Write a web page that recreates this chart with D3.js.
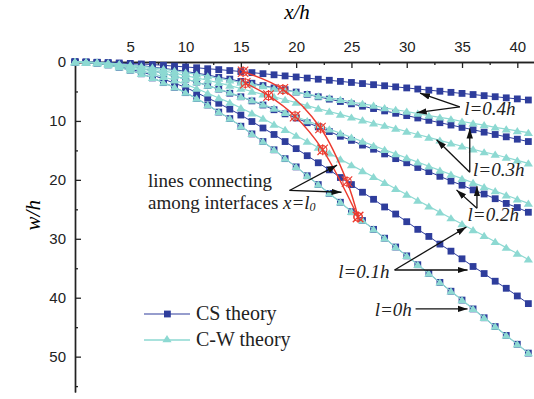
<!DOCTYPE html>
<html>
<head>
<meta charset="utf-8">
<script src="https://cdn.jsdelivr.net/npm/d3@7"></script>
<style>
  html, body { margin: 0; padding: 0; background: #fff; }
</style>
</head>
<body>
<svg id="chart" width="534" height="399"></svg>
<script>
// x/h positions of the markers
const xValues = [0,1,2,3,4,5,6,7,8,9,10,11,12,13,14,15,16,17,18,19,20,21,22,23,24,25,26,27,28,29,30,31,32,33,34,35,36,37,38,39,40,41]

// CS theory, w/h for l = 0h ... 0.4h
const csL00 = [0,0.1,0.2,0.5,0.9,1.4,2.0,2.7,3.5,4.3,5.2,6.2,7.3,8.5,9.6,10.9,12.2,13.5,14.9,16.4,17.8,19.3,20.8,22.3,23.8,25.4,26.9,28.4,29.9,31.4,32.9,34.4,35.9,37.4,38.9,40.4,41.9,43.4,44.9,46.4,47.9,49.4]
const csL01 = [0,0.05,0.2,0.4,0.8,1.2,1.7,2.2,2.9,3.6,4.3,5.2,6.1,7.0,8.0,9.0,10.1,11.2,12.3,13.5,14.7,15.9,17.1,18.3,19.6,20.8,22.1,23.3,24.6,25.8,27.1,28.4,29.6,30.9,32.1,33.4,34.7,35.9,37.2,38.4,39.7,41.0]
const csL02 = [0,0.03,0.1,0.3,0.5,0.8,1.1,1.5,1.9,2.4,2.9,3.4,4.0,4.6,5.3,5.9,6.6,7.3,8.1,8.8,9.5,10.3,11.0,11.8,12.6,13.3,14.1,14.8,15.6,16.4,17.1,17.9,18.6,19.4,20.2,20.9,21.7,22.4,23.2,24.0,24.7,25.5]
const csL03 = [0,0.02,0.08,0.17,0.3,0.45,0.6,0.85,1.1,1.3,1.6,1.9,2.2,2.6,2.9,3.3,3.6,4.0,4.4,4.7,5.1,5.5,5.9,6.3,6.7,7.1,7.5,7.9,8.3,8.7,9.1,9.5,9.9,10.3,10.7,11.1,11.5,11.9,12.3,12.7,13.1,13.5]
const csL04 = [0,0.01,0.04,0.09,0.16,0.24,0.33,0.44,0.56,0.7,0.84,0.98,1.14,1.29,1.45,1.62,1.8,1.98,2.17,2.36,2.54,2.73,2.92,3.1,3.29,3.47,3.66,3.85,4.03,4.22,4.4,4.59,4.78,4.96,5.15,5.33,5.52,5.71,5.89,6.08,6.26,6.45]

// C-W theory, w/h for l = 0h ... 0.4h
const cwL00 = [0,0.1,0.2,0.5,0.9,1.4,2.0,2.7,3.5,4.3,5.2,6.2,7.3,8.5,9.6,10.9,12.2,13.5,14.9,16.4,17.8,19.3,20.8,22.3,23.8,25.4,26.9,28.4,29.9,31.4,32.9,34.4,35.9,37.4,38.9,40.4,41.9,43.4,44.9,46.4,47.9,49.4]
const cwL01 = [0,0.04,0.17,0.38,0.67,1.0,1.46,1.96,2.5,3.1,3.8,4.5,5.3,6.1,6.9,7.8,8.7,9.6,10.6,11.5,12.5,13.5,14.5,15.5,16.5,17.5,18.5,19.5,20.5,21.5,22.5,23.5,24.5,25.5,26.5,27.5,28.5,29.5,30.5,31.5,32.5,33.5]
const cwL02 = [0,0.03,0.13,0.3,0.52,0.8,1.13,1.5,1.9,2.4,2.9,3.4,4.0,4.6,5.2,5.9,6.5,7.2,7.9,8.6,9.3,10.0,10.7,11.4,12.1,12.8,13.5,14.2,14.9,15.6,16.3,17.0,17.7,18.4,19.1,19.8,20.5,21.2,21.9,22.6,23.3,24.0]
const cwL03 = [0,0.03,0.11,0.24,0.41,0.63,0.89,1.19,1.5,1.9,2.3,2.7,3.1,3.55,4.0,4.5,5.0,5.5,5.9,6.4,6.9,7.4,7.9,8.4,8.9,9.4,9.9,10.4,10.8,11.3,11.8,12.3,12.8,13.3,13.8,14.3,14.8,15.3,15.7,16.2,16.7,17.2]
const cwL04 = [0,0.02,0.09,0.19,0.33,0.51,0.71,0.95,1.2,1.5,1.8,2.1,2.4,2.8,3.1,3.5,3.8,4.1,4.5,4.8,5.1,5.45,5.8,6.1,6.4,6.8,7.1,7.4,7.8,8.1,8.4,8.75,9.1,9.4,9.7,10.1,10.4,10.7,11.1,11.4,11.7,12.0]

// interface points x = l0 (l = 0.4h, 0.3h, 0.2h, 0.1h, 0h)
const csInterfaceX = [15.2, 18.8, 22.2, 24.6, 25.6]
const csInterfaceW = [1.65, 4.65, 11.2, 20.3, 26.3]
const cwInterfaceX = [15.4, 17.5, 19.9, 22.4, 25.6]
const cwInterfaceW = [3.6, 5.7, 9.2, 14.9, 26.3]

// ticks
const xTicks = [5, 10, 15, 20, 25, 30, 35, 40]
const xMinor = [2.5, 7.5, 12.5, 17.5, 22.5, 27.5, 32.5, 37.5]
const yTicks = [0, 10, 20, 30, 40, 50]
const yMinor = [5, 15, 25, 35, 45, 55]

const csColor = '#2e3d9c'
const cwColor = '#8dd9d2'
const redColor = '#ec3a2e'
const serif = '"Liberation Serif", "Times New Roman", serif'
const sans = '"Liberation Sans", Arial, sans-serif'

const svg = d3.select('#chart')

const x = d3.scaleLinear().domain([0, 41.6]).range([75, 535])
const y = d3.scaleLinear().domain([0, 56]).range([62, 392])

// arrow head
svg.append('defs')
  .append('marker')
  .attr('id', 'arrow')
  .attr('markerUnits', 'userSpaceOnUse')
  .attr('markerWidth', 11)
  .attr('markerHeight', 8)
  .attr('refX', 10)
  .attr('refY', 4)
  .attr('orient', 'auto')
  .append('path')
  .attr('d', 'M0,0.8 L10,4 L0,7.2 Z')
  .attr('fill', '#111')

// axes
const styleAxis = (g) => {
  g.select('.domain').attr('stroke', '#222').attr('stroke-width', 1.4)
  g.selectAll('.tick line').attr('stroke', '#222').attr('stroke-width', 1.3)
  g.selectAll('.tick text').attr('fill', '#222').style('font-family', sans).style('font-size', '15px')
}

svg.append('g')
  .attr('transform', `translate(0,${y(0)})`)
  .call(d3.axisTop(x).tickValues(xMinor).tickSize(-3).tickSizeOuter(0).tickFormat(''))
  .call(styleAxis)
svg.append('g')
  .attr('transform', `translate(0,${y(0)})`)
  .call(d3.axisTop(x).tickValues(xTicks).tickSize(-6).tickSizeOuter(0).tickPadding(10))
  .call(styleAxis)

svg.append('g')
  .attr('transform', `translate(${x(0)},0)`)
  .call(d3.axisLeft(y).tickValues(yMinor).tickSize(-3).tickSizeOuter(0).tickFormat(''))
  .call(styleAxis)
svg.append('g')
  .attr('transform', `translate(${x(0)},0)`)
  .call(d3.axisLeft(y).tickValues(yTicks).tickSize(-6).tickSizeOuter(0).tickPadding(9))
  .call(styleAxis)

// axis titles
svg.append('text')
  .attr('x', 297).attr('y', 19)
  .attr('text-anchor', 'middle')
  .style('font-family', serif).style('font-style', 'italic').style('font-size', '21px')
  .text('x/h')

svg.append('text')
  .attr('transform', `translate(40,${y(26)}) rotate(-90)`)
  .attr('text-anchor', 'middle')
  .style('font-family', serif).style('font-style', 'italic').style('font-size', '21px')
  .text('w/h')

// series
const line = d3.line().x((d, i) => x(xValues[i])).y((d) => y(d))
const trianglePath = 'M0,-4 L4.6,3.2 L-4.6,3.2 Z'

const csSeries = [csL00, csL01, csL02, csL03, csL04]
const cwSeries = [cwL00, cwL01, cwL02, cwL03, cwL04]

csSeries.forEach((s) => {
  svg.append('path').datum(s)
    .attr('fill', 'none').attr('stroke', csColor).attr('stroke-width', 1).attr('d', line)
  svg.append('g').selectAll('rect').data(s).join('rect')
    .attr('x', (d, i) => x(xValues[i]) - 3.4)
    .attr('y', (d) => y(d) - 3.4)
    .attr('width', 6.8).attr('height', 6.8)
    .attr('fill', csColor)
})

cwSeries.forEach((s) => {
  svg.append('path').datum(s)
    .attr('fill', 'none').attr('stroke', cwColor).attr('stroke-width', 1.2).attr('d', line)
  svg.append('g').selectAll('path').data(s).join('path')
    .attr('transform', (d, i) => `translate(${x(xValues[i])},${y(d)})`)
    .attr('d', trianglePath)
    .attr('fill', cwColor)
})

// red lines connecting the interfaces x = l0
const redLine = d3.line().curve(d3.curveCatmullRom)
const drawInterfaces = (xs, ws) => {
  const pts = xs.map((v, i) => [x(v), y(ws[i])])
  svg.append('path')
    .attr('d', redLine(pts))
    .attr('fill', 'none').attr('stroke', redColor).attr('stroke-width', 1.4)
  const m = svg.append('g').selectAll('g').data(pts).join('g')
    .attr('transform', (d) => `translate(${d[0]},${d[1]})`)
  m.append('circle').attr('r', 4.2).attr('fill', 'none').attr('stroke', redColor).attr('stroke-width', 1.1)
  m.append('path').attr('d', 'M-5.2,-5.2 L5.2,5.2 M-5.2,5.2 L5.2,-5.2 M0,-5.5 L0,5.5')
    .attr('stroke', redColor).attr('stroke-width', 1.1)
}
drawInterfaces(csInterfaceX, csInterfaceW)
drawInterfaces(cwInterfaceX, cwInterfaceW)

// annotations (positions in data units)
const arrow = (x1, w1, x2, w2) => {
  svg.append('line')
    .attr('x1', x(x1)).attr('y1', y(w1))
    .attr('x2', x(x2)).attr('y2', y(w2))
    .attr('stroke', '#111').attr('stroke-width', 1.3)
    .attr('marker-end', 'url(#arrow)')
}
const label = (xd, wd, txt) => {
  svg.append('text')
    .attr('x', x(xd)).attr('y', y(wd))
    .style('font-family', serif).style('font-style', 'italic').style('font-size', '19px')
    .attr('fill', '#222')
    .text(txt)
}

arrow(34.8, 7.6, 31.2, 5.3)
arrow(34.8, 7.6, 30.9, 8.6)
label(35.2, 9.0, 'l=0.4h')

arrow(35.7, 18.7, 35.7, 11.3)
arrow(35.7, 18.7, 32.7, 13.2)
label(36.0, 19.3, 'l=0.3h')

arrow(36.35, 24.8, 36.35, 21.1)
arrow(36.35, 24.8, 34.5, 21.7)
label(35.5, 26.9, 'l=0.2h')

arrow(28.9, 35.3, 35.4, 28.0)
arrow(28.9, 35.3, 35.5, 35.3)
label(23.8, 36.6, 'l=0.1h')

arrow(30.8, 41.9, 35.5, 41.9)
label(27.1, 43.1, 'l=0h')

arrow(19.4, 21.8, 23.7, 17.5)
arrow(19.4, 21.8, 24.1, 22.1)

svg.append('text')
  .attr('x', 148).attr('y', 187)
  .style('font-family', serif).style('font-size', '19px').attr('fill', '#222')
  .text('lines connecting')
const t2 = svg.append('text')
  .attr('x', 148).attr('y', 209)
  .style('font-family', serif).style('font-size', '19px').attr('fill', '#222')
t2.append('tspan').text('among interfaces ')
t2.append('tspan').style('font-style', 'italic').text('x=l')
t2.append('tspan').style('font-style', 'italic').style('font-size', '12px').attr('dy', 2).text('0')

// legend
const legend = svg.append('g')
legend.append('line').attr('x1', 144).attr('x2', 190).attr('y1', 314).attr('y2', 314)
  .attr('stroke', csColor).attr('stroke-width', 1.2)
legend.append('rect').attr('x', 164).attr('y', 310.6).attr('width', 6.8).attr('height', 6.8).attr('fill', csColor)
legend.append('text').attr('x', 196).attr('y', 320)
  .style('font-family', serif).style('font-size', '20px').attr('fill', '#222').text('CS theory')

legend.append('line').attr('x1', 144).attr('x2', 190).attr('y1', 340).attr('y2', 340)
  .attr('stroke', cwColor).attr('stroke-width', 1.4)
legend.append('path').attr('transform', 'translate(167,339)').attr('d', trianglePath).attr('fill', cwColor)
legend.append('text').attr('x', 196).attr('y', 346)
  .style('font-family', serif).style('font-size', '20px').attr('fill', '#222').text('C-W theory')
</script>
</body>
</html>
